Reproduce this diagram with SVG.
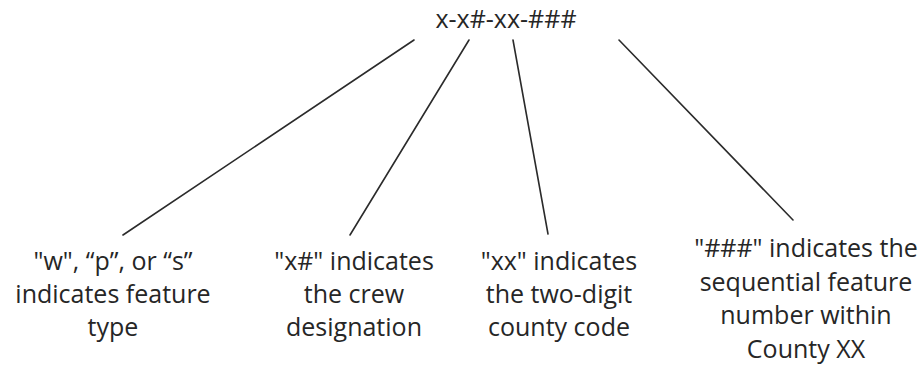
<svg xmlns="http://www.w3.org/2000/svg" width="924" height="366" viewBox="0 0 924 366">
<style>
text { font-family: "Open Sans", "Noto Sans", sans-serif; font-size: 25px; fill: #262626; text-anchor: middle; }
.conn line { stroke: #2b2b2b; stroke-width: 1.6; stroke-linecap: round; }
</style>
<rect width="924" height="366" fill="#ffffff"/>
<g id="code"><text x="506" y="28">x-x#-xx-###</text></g>
<g class="conn" id="connectors">
<line x1="414" y1="40" x2="123" y2="235"/>
<line x1="469" y1="40" x2="350" y2="235"/>
<line x1="513" y1="40" x2="548" y2="234"/>
<line x1="619" y1="40" x2="793" y2="220"/>
</g>
<g id="type"><text x="113" y="270">"w", “p”, or “s”</text><text x="113" y="303">indicates feature</text><text x="113" y="336">type</text></g>
<g id="crew"><text x="354" y="270">"x#" indicates</text><text x="354" y="303">the crew</text><text x="354" y="336">designation</text></g>
<g id="county"><text x="559" y="270">"xx" indicates</text><text x="559" y="303">the two-digit</text><text x="559" y="336">county code</text></g>
<g id="sequence"><text x="806" y="257">"###" indicates the</text><text x="806" y="290.5">sequential feature</text><text x="806" y="324">number within</text><text x="806" y="357.5">County XX</text></g>
</svg>
